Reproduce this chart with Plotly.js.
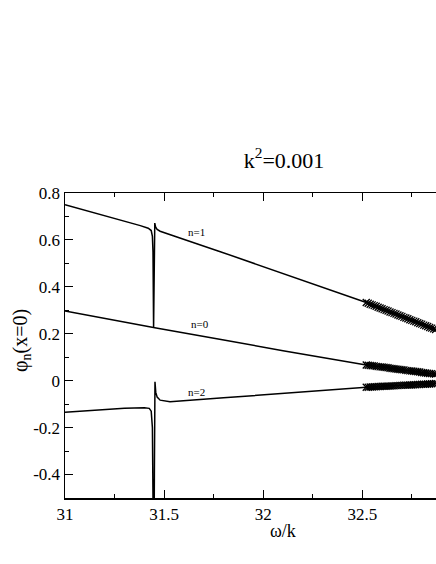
<!DOCTYPE html>
<html>
<head>
<meta charset="utf-8">
<script src="https://cdn.plot.ly/plotly-3.0.1.min.js"></script>
<style>html,body{margin:0;padding:0;background:#fff;overflow:hidden}</style>
</head>
<body>
<div id="chart" style="width:436px;height:564px"></div>
<script>
// n=1 curve (line part)
const n1Omega = [31, 31.1, 31.2, 31.3, 31.38, 31.42, 31.435, 31.441, 31.444, 31.447, 31.45, 31.453, 31.457, 31.465, 31.48, 31.53, 31.65, 31.78, 31.95, 32.2, 32.52];
const n1Phi   = [0.750, 0.727, 0.704, 0.680, 0.661, 0.650, 0.640, 0.615, 0.55, 0.226, 0.50, 0.672, 0.655, 0.645, 0.637, 0.622, 0.588, 0.551, 0.501, 0.428, 0.333];
// n=0 curve (line part)
const n0Omega = [31, 31.2, 31.445, 31.46, 31.78, 32.1, 32.52];
const n0Phi   = [0.297, 0.265, 0.226, 0.225, 0.177, 0.128, 0.067];
// n=2 curve (line part)
const n2Omega = [31, 31.15, 31.3, 31.4, 31.425, 31.435, 31.441, 31.445, 31.448, 31.451, 31.454, 31.458, 31.465, 31.48, 31.53, 31.8, 32.15, 32.52];
const n2Phi   = [-0.134, -0.124, -0.117, -0.115, -0.118, -0.13, -0.2, -0.6, -0.9, -0.4, -0.005, -0.05, -0.07, -0.083, -0.09, -0.073, -0.051, -0.028];
// marked section (dense x markers)
const markOmega = [32.52, 32.53, 32.54, 32.55, 32.56, 32.57, 32.58, 32.59, 32.60, 32.61, 32.62, 32.63, 32.64, 32.65, 32.66, 32.67, 32.68, 32.69, 32.70, 32.71, 32.72, 32.73, 32.74, 32.75, 32.76, 32.77, 32.78, 32.79, 32.80, 32.81, 32.82, 32.83, 32.84, 32.85, 32.86, 32.87];
const markN1 = [0.333, 0.330, 0.326, 0.323, 0.320, 0.317, 0.313, 0.310, 0.307, 0.303, 0.300, 0.297, 0.293, 0.290, 0.287, 0.284, 0.280, 0.277, 0.274, 0.270, 0.267, 0.264, 0.260, 0.257, 0.254, 0.251, 0.247, 0.244, 0.241, 0.237, 0.234, 0.231, 0.227, 0.224, 0.221, 0.218];
const markN0 = [0.067, 0.066, 0.065, 0.064, 0.063, 0.061, 0.060, 0.059, 0.058, 0.057, 0.056, 0.055, 0.053, 0.052, 0.051, 0.050, 0.049, 0.048, 0.047, 0.046, 0.044, 0.043, 0.042, 0.041, 0.040, 0.039, 0.038, 0.037, 0.035, 0.034, 0.033, 0.032, 0.031, 0.030, 0.029, 0.028];
const markN2 = [-0.028, -0.028, -0.027, -0.027, -0.026, -0.026, -0.025, -0.025, -0.024, -0.024, -0.024, -0.023, -0.023, -0.022, -0.022, -0.021, -0.021, -0.020, -0.020, -0.019, -0.019, -0.019, -0.018, -0.018, -0.017, -0.017, -0.016, -0.016, -0.015, -0.015, -0.015, -0.014, -0.014, -0.013, -0.013, -0.012];
// labels
const curveLabels = ['n=1', 'n=0', 'n=2'];
const labelOmega = [31.664, 31.68, 31.664];
const labelPhi = [0.632, 0.242, -0.048];
const xTickVals = [31, 31.5, 32, 32.5];
const xTickText = ['31', '31.5', '32', '32.5'];
const yTickVals = [-0.4, -0.2, 0, 0.2, 0.4, 0.6, 0.8];
const yTickText = ['-0.4', '-0.2', '0', '0.2', '0.4', '0.6', '0.8'];

const serif = 'Liberation Serif';
const lineStyle = {color: '#000', width: 1.5};
const markStyle = {symbol: 'x-thin', size: 7, line: {color: '#000', width: 1.3}, color: '#000'};

const traces = [
  {x: n1Omega, y: n1Phi, mode: 'lines', line: lineStyle},
  {x: n0Omega, y: n0Phi, mode: 'lines', line: lineStyle},
  {x: n2Omega, y: n2Phi, mode: 'lines', line: lineStyle},
  {x: markOmega, y: markN1, mode: 'lines+markers', line: lineStyle, marker: markStyle},
  {x: markOmega, y: markN0, mode: 'lines+markers', line: lineStyle, marker: markStyle},
  {x: markOmega, y: markN2, mode: 'lines+markers', line: lineStyle, marker: markStyle}
];

const annotations = curveLabels.map((t, i) => ({
  x: labelOmega[i], y: labelPhi[i], xref: 'x', yref: 'y', text: t, showarrow: false,
  font: {family: serif, size: 11, color: '#000'}
}));
annotations.push({
  x: 283, y: 531, text: 'ω/k', showarrow: false,
  font: {family: serif, size: 18, color: '#000'}
});
annotations.push({
  x: 21, y: 341, text: 'φ<sub>n</sub>(x=0)', showarrow: false, textangle: -90,
  font: {family: serif, size: 20, color: '#000'}
});
// convert pixel positions of the last two annotations to paper coords
const L = 65, T = 193, W = 371, H = 305;
for (const a of annotations.slice(-2)) {
  a.x = (a.x - L) / W; a.y = 1 - (a.y - T) / H;
  a.xref = 'paper'; a.yref = 'paper';
  a.xanchor = 'center'; a.yanchor = 'middle';
}

const layout = {
  width: 436, height: 564,
  margin: {l: L, r: 0, t: T, b: 564 - T - H, pad: 0},
  paper_bgcolor: '#fff', plot_bgcolor: '#fff',
  showlegend: false,
  font: {family: serif, color: '#000'},
  title: {
    text: 'k<sup>2</sup>=0.001', x: 284 / 436, xanchor: 'center', xref: 'container',
    y: 1 - 160 / 564, yanchor: 'middle', yref: 'container',
    font: {family: serif, size: 22, color: '#000'}
  },
  xaxis: {
    range: [31, 32.872], showgrid: false, zeroline: false,
    showline: true, linecolor: '#000', linewidth: 1.5, mirror: 'ticks',
    ticks: 'inside', ticklen: 8, tickwidth: 1, tickcolor: '#000',
    tickvals: xTickVals, ticktext: xTickText,
    minor: {dtick: 0.25, tick0: 31, ticks: 'inside', ticklen: 4, tickwidth: 1, tickcolor: '#000', showgrid: false},
    tickfont: {family: serif, size: 17, color: '#000'}
  },
  yaxis: {
    range: [-0.5, 0.8], showgrid: false, zeroline: false,
    showline: true, linecolor: '#000', linewidth: 1.5,
    ticks: 'inside', ticklen: 8, tickwidth: 1, tickcolor: '#000',
    tickvals: yTickVals, ticktext: yTickText,
    minor: {dtick: 0.1, tick0: 0, ticks: 'inside', ticklen: 4, tickwidth: 1, tickcolor: '#000', showgrid: false},
    tickfont: {family: serif, size: 17, color: '#000'}
  },
  annotations: annotations
};

Plotly.newPlot('chart', traces, layout, {displayModeBar: false, staticPlot: true});
</script>
</body>
</html>
